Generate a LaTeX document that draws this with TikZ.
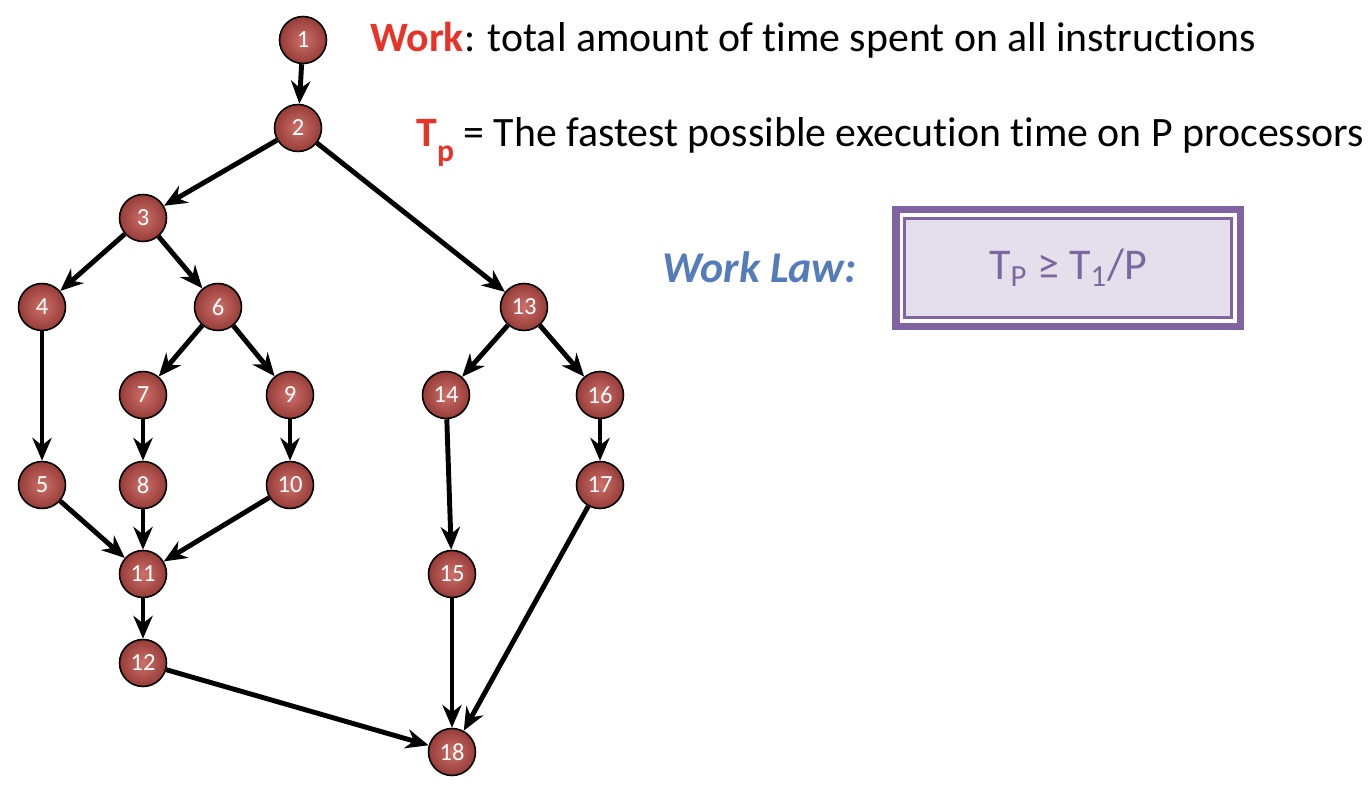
\documentclass[tikz,border=0pt]{standalone}
\usepackage{fontspec}
\setmainfont[Ligatures=NoCommon]{Carlito}
\usetikzlibrary{arrows.meta,positioning}
\definecolor{workred}{RGB}{232,52,40}
\definecolor{lawblue}{RGB}{84,124,186}
\definecolor{lawpurple}{RGB}{128,100,162}
\definecolor{lawlilac}{RGB}{229,223,236}
\definecolor{formulacol}{RGB}{122,104,160}
\definecolor{tasklight}{RGB}{206,112,106}
\definecolor{taskdark}{RGB}{150,60,56}

\begin{document}
\begin{tikzpicture}[x=0.02cm, y=-0.02cm,
    task/.style={circle, draw=black, line width=0.9pt, minimum size=0.94cm, inner sep=0pt,
        inner color=tasklight, outer color=taskdark, text=white, font=\fontsize{14}{14}\selectfont},
    arrow/.style={-{Stealth[length=13pt, width=11pt]}, line width=2.8pt},
    txt/.style={anchor=base west, inner sep=0pt, font=\fontsize{23.8}{28}\selectfont}
]
\useasboundingbox (0,0) rectangle (1370,790);

\node[task] (n1) at (303,40) {1};
\node[task] (n2) at (298,128) {2};
\node[task] (n3) at (143,218) {3};
\node[task] (n4) at (42,307) {4};
\node[task] (n6) at (218,307) {6};
\node[task] (n13) at (524,307) {13};
\node[task] (n7) at (143,395) {7};
\node[task] (n9) at (290,395) {9};
\node[task] (n14) at (446,395) {14};
\node[task] (n16) at (600,395) {16};
\node[task] (n5) at (42,485) {5};
\node[task] (n8) at (143,485) {8};
\node[task] (n10) at (290,485) {10};
\node[task] (n17) at (600,485) {17};
\node[task] (n11) at (143,574) {11};
\node[task] (n15) at (452,574) {15};
\node[task] (n12) at (143,663) {12};
\node[task] (n18) at (452,752) {18};

\draw[arrow] (n1) -- (n2);
\draw[arrow] (n2) -- (n3);
\draw[arrow] (n2) -- (n13);
\draw[arrow] (n3) -- (n4);
\draw[arrow] (n3) -- (n6);
\draw[arrow] (n4) -- (n5);
\draw[arrow] (n6) -- (n7);
\draw[arrow] (n6) -- (n9);
\draw[arrow] (n7) -- (n8);
\draw[arrow] (n9) -- (n10);
\draw[arrow] (n5) -- (n11);
\draw[arrow] (n8) -- (n11);
\draw[arrow] (n10) -- (n11);
\draw[arrow] (n11) -- (n12);
\draw[arrow] (n12) -- (n18);
\draw[arrow] (n13) -- (n14);
\draw[arrow] (n13) -- (n16);
\draw[arrow] (n14) -- (n15);
\draw[arrow] (n16) -- (n17);
\draw[arrow] (n15) -- (n18);
\draw[arrow] (n17) -- (n18);

\node[txt] (work) at (370,52) {\textcolor{workred}{\bfseries Work}: total amount of time spent on all instructions};
\node[txt] (tp) at (416,147) {\textcolor{workred}{\bfseries T\raisebox{-0.35em}{\fontsize{18}{18}\selectfont p}} = The fastest possible execution time on P processors};
\node[txt, text=lawblue, font=\fontsize{25}{30}\selectfont\bfseries\itshape] (law) at (662,283) {Work Law:};

\node[draw=lawpurple, line width=1.7pt, fill=lawlilac, minimum width=6.54cm, minimum height=1.98cm,
    text=formulacol, font=\fontsize{25}{30}\selectfont] (formula) at (1068,268) {T\textsubscript{P} ≥ T\textsubscript{1}/P};
\draw[lawpurple, line width=4.5pt] ([shift={(-7.5,-7.5)}]formula.north west) rectangle ([shift={(7.5,7.5)}]formula.south east);
\end{tikzpicture}
\end{document}
